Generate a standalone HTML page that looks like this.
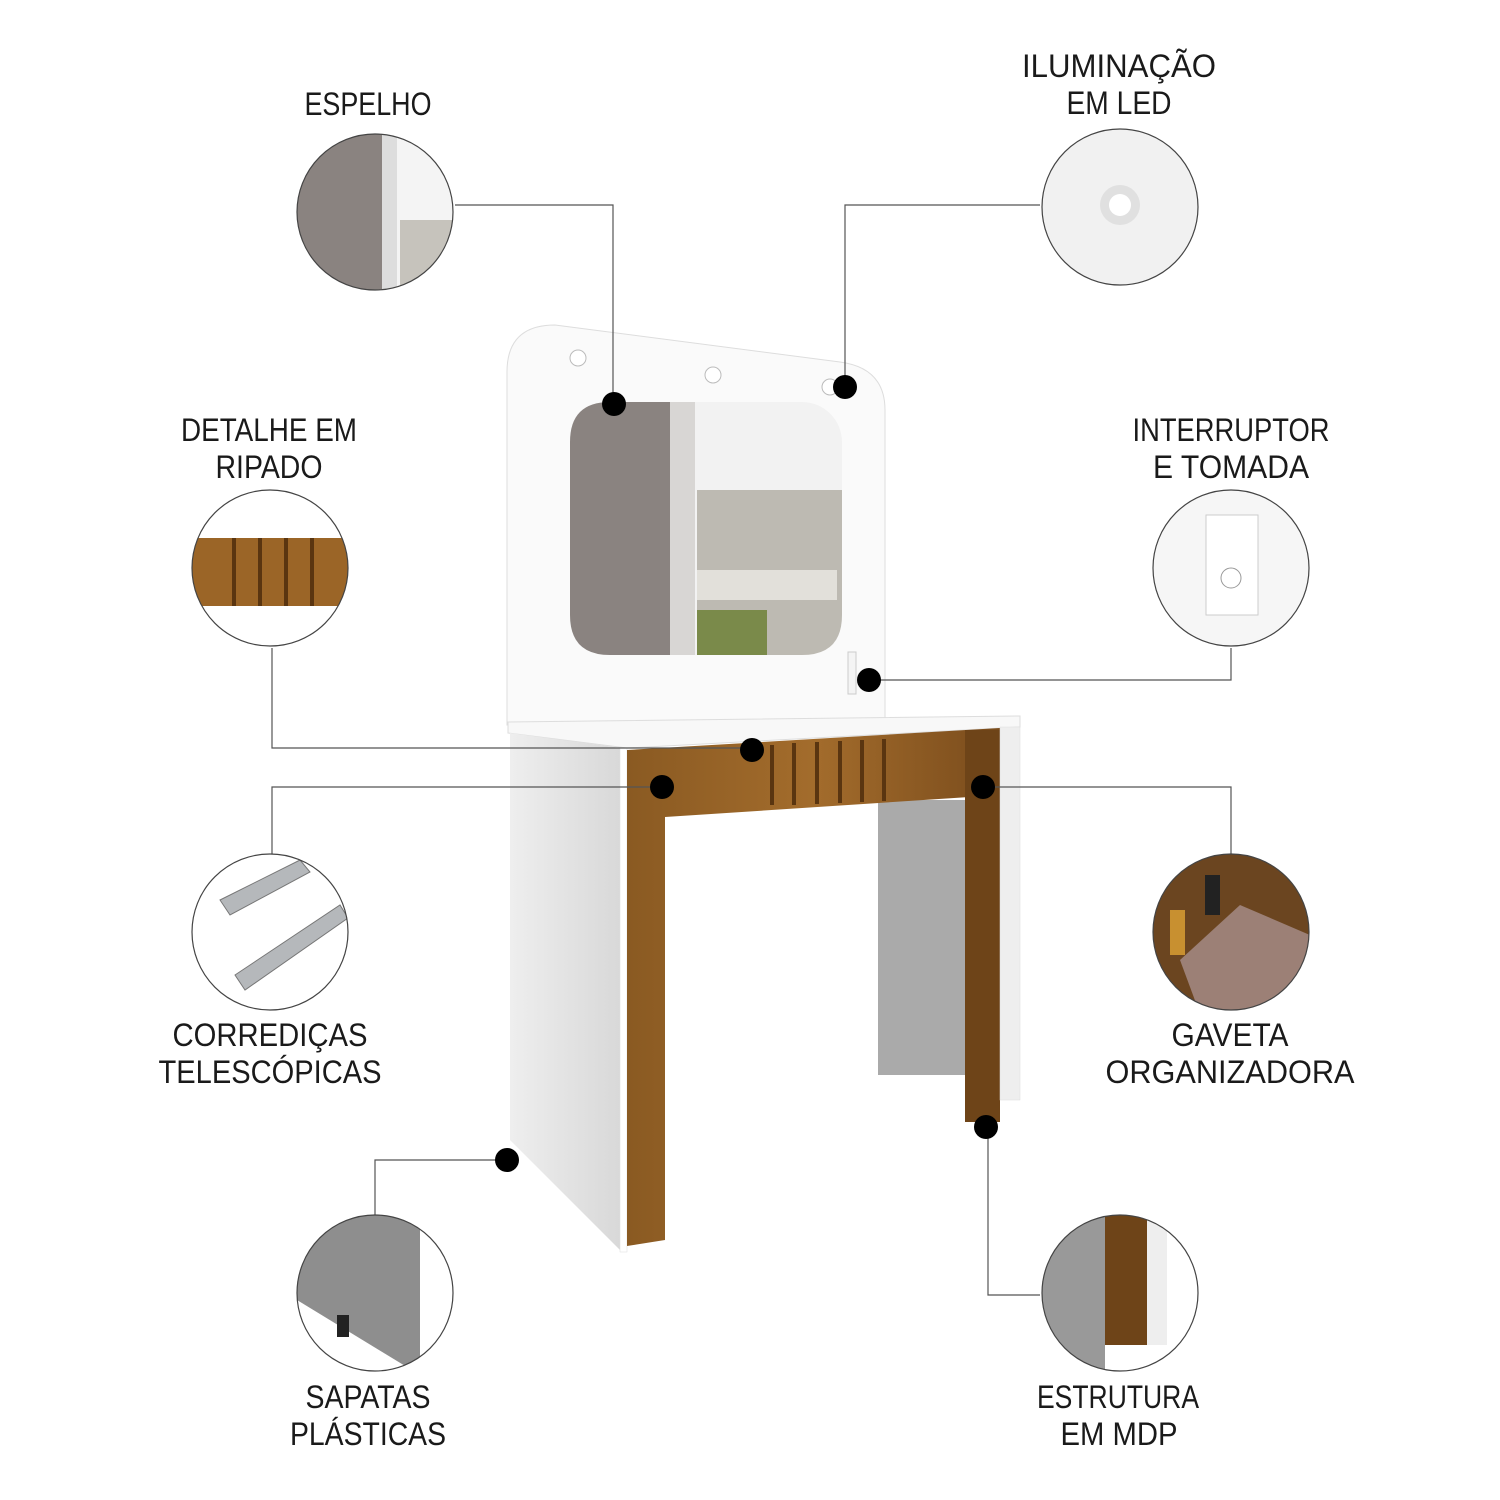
<!DOCTYPE html>
<html><head><meta charset="utf-8"><style>
html,body{margin:0;padding:0;background:#fff}
svg{display:block}
text{font-family:"Liberation Sans",sans-serif;font-size:32px;fill:#1a1a1a;text-anchor:middle}
</style></head><body>
<svg width="1500" height="1500" viewBox="0 0 1500 1500" xmlns="http://www.w3.org/2000/svg">
<defs>
<linearGradient id="wood" x1="0" x2="1" y1="0" y2="0"><stop offset="0" stop-color="#8a5a22"/><stop offset="0.5" stop-color="#a36c2c"/><stop offset="1" stop-color="#7a4c1c"/></linearGradient>
<linearGradient id="side" x1="0" x2="1"><stop offset="0" stop-color="#eeeeee"/><stop offset="1" stop-color="#d8d8d8"/></linearGradient>
<clipPath id="c1"><circle cx="375" cy="212" r="78"/></clipPath>
<clipPath id="c2"><circle cx="1120" cy="207" r="78"/></clipPath>
<clipPath id="c3"><circle cx="270" cy="568" r="78"/></clipPath>
<clipPath id="c4"><circle cx="1231" cy="568" r="78"/></clipPath>
<clipPath id="c5"><circle cx="270" cy="932" r="78"/></clipPath>
<clipPath id="c6"><circle cx="1231" cy="932" r="78"/></clipPath>
<clipPath id="c7"><circle cx="375" cy="1293" r="78"/></clipPath>
<clipPath id="c8"><circle cx="1120" cy="1293" r="78"/></clipPath>
</defs>

<path d="M507 372 Q507 325 555 325 L840 362 Q885 368 885 410 L885 725 L507 725 Z" fill="#fafafa" stroke="#ddd" stroke-width="1"/>
<rect x="570" y="402" width="272" height="253" rx="40" fill="#f2f2f2"/>
<path d="M610 402 L670 402 L670 655 L610 655 Q570 655 570 615 L570 442 Q570 402 610 402Z" fill="#8a8380"/>
<rect x="670" y="402" width="25" height="253" fill="#d8d6d4"/>
<path d="M697 490 L842 490 L842 615 Q842 655 802 655 L697 655 Z" fill="#bdbab2"/>
<rect x="697" y="610" width="70" height="45" fill="#7a8a4a"/>
<rect x="697" y="570" width="140" height="30" fill="#e2e0da"/>
<circle cx="578" cy="358" r="8" fill="#fff" stroke="#bbb"/>
<circle cx="713" cy="375" r="8" fill="#fff" stroke="#bbb"/>
<circle cx="830" cy="387" r="8" fill="#fff" stroke="#bbb"/>
<rect x="848" y="652" width="8" height="42" fill="#f4f4f4" stroke="#ccc"/>

<path d="M508 722 L1020 716 L1020 727 L627 748 L508 733 Z" fill="#f8f8f8" stroke="#ddd"/>
<path d="M510 733 L622 748 L622 1252 L510 1140 Z" fill="url(#side)"/>
<rect x="620" y="748" width="7" height="504" fill="#fff" stroke="#ddd" stroke-width="0.5"/>
<rect x="878" y="800" width="87" height="275" fill="#aaa"/>
<path d="M627 750 L1000 728 L1000 795 L665 817 L665 1240 L627 1246 Z" fill="url(#wood)"/>
<rect x="965" y="730" width="35" height="392" fill="#6e4418"/>
<g fill="#5a3510"><rect x="770" y="745" width="4" height="60"/><rect x="792" y="743" width="4" height="62"/><rect x="815" y="742" width="4" height="62"/><rect x="838" y="741" width="4" height="62"/><rect x="860" y="740" width="4" height="62"/><rect x="882" y="739" width="4" height="62"/></g>
<rect x="1000" y="727" width="20" height="373" fill="#eee" stroke="#ddd" stroke-width="0.5"/>

<g stroke="#555" stroke-width="1.2" fill="none">
<polyline points="455,205 613,205 613,404"/>
<polyline points="1040,205 845,205 845,387"/>
<polyline points="272,648 272,748 752,748"/>
<polyline points="1231,648 1231,680 869,680"/>
<polyline points="272,855 272,787 662,787"/>
<polyline points="1231,855 1231,787 983,787"/>
<polyline points="375,1215 375,1160 507,1160"/>
<polyline points="1040,1295 988,1295 988,1127"/>
</g>
<g fill="#000">
<circle cx="614" cy="404" r="12"/><circle cx="845" cy="387" r="12"/><circle cx="752" cy="750" r="12"/><circle cx="869" cy="680" r="12"/>
<circle cx="662" cy="787" r="12"/><circle cx="983" cy="787" r="12"/><circle cx="507" cy="1160" r="12"/><circle cx="986" cy="1127" r="12"/>
</g>

<g clip-path="url(#c1)"><rect x="297" y="134" width="160" height="160" fill="#f4f4f4"/><rect x="297" y="134" width="85" height="160" fill="#8a8380"/><rect x="382" y="134" width="15" height="160" fill="#ddd"/><rect x="400" y="220" width="60" height="74" fill="#c6c3bc"/></g>
<g clip-path="url(#c2)"><rect x="1040" y="129" width="160" height="160" fill="#f1f1f1"/><circle cx="1120" cy="205" r="20" fill="#e0e0e0"/><circle cx="1120" cy="205" r="11" fill="#fff"/></g>
<g clip-path="url(#c3)"><rect x="190" y="490" width="160" height="160" fill="#fff"/><rect x="190" y="538" width="160" height="68" fill="#9b6527"/><g fill="#5a3510"><rect x="232" y="538" width="4" height="68"/><rect x="258" y="538" width="4" height="68"/><rect x="284" y="538" width="4" height="68"/><rect x="310" y="538" width="4" height="68"/></g></g>
<g clip-path="url(#c4)"><rect x="1150" y="490" width="160" height="160" fill="#f6f6f6"/><rect x="1206" y="515" width="52" height="100" fill="#fff" stroke="#ccc"/><circle cx="1231" cy="578" r="10" fill="none" stroke="#999"/></g>
<g clip-path="url(#c5)"><rect x="190" y="854" width="160" height="160" fill="#fff"/><path d="M220 900 L300 860 L310 872 L230 915Z M235 975 L340 905 L348 918 L245 990Z" fill="#b5b8bb" stroke="#777"/></g>
<g clip-path="url(#c6)"><rect x="1150" y="854" width="160" height="160" fill="#6b4520"/><path d="M1180 960 L1240 905 L1310 935 L1310 1014 L1200 1014Z" fill="#9c8076"/><rect x="1170" y="910" width="15" height="45" fill="#c89030"/><rect x="1205" y="875" width="15" height="40" fill="#222"/></g>
<g clip-path="url(#c7)"><rect x="297" y="1215" width="160" height="160" fill="#fff"/><path d="M297 1215 L420 1215 L420 1375 L297 1300Z" fill="#8e8e8e"/><rect x="337" y="1315" width="12" height="22" fill="#222"/></g>
<g clip-path="url(#c8)"><rect x="1040" y="1215" width="160" height="160" fill="#fff"/><rect x="1040" y="1215" width="65" height="160" fill="#999"/><rect x="1105" y="1215" width="42" height="130" fill="#6e4418"/><rect x="1147" y="1215" width="20" height="130" fill="#eee"/></g>

<g fill="none" stroke="#444" stroke-width="1.2">
<circle cx="375" cy="212" r="78"/><circle cx="1120" cy="207" r="78"/><circle cx="270" cy="568" r="78"/><circle cx="1231" cy="568" r="78"/>
<circle cx="270" cy="932" r="78"/><circle cx="1231" cy="932" r="78"/><circle cx="375" cy="1293" r="78"/><circle cx="1120" cy="1293" r="78"/>
</g>

<text x="368" y="115" textLength="127" lengthAdjust="spacingAndGlyphs">ESPELHO</text>
<text x="1119" y="77" textLength="194" lengthAdjust="spacingAndGlyphs">ILUMINAÇÃO</text><text x="1119" y="114" textLength="105" lengthAdjust="spacingAndGlyphs">EM LED</text>
<text x="269" y="441" textLength="176" lengthAdjust="spacingAndGlyphs">DETALHE EM</text><text x="269" y="478" textLength="107" lengthAdjust="spacingAndGlyphs">RIPADO</text>
<text x="1231" y="441" textLength="197" lengthAdjust="spacingAndGlyphs">INTERRUPTOR</text><text x="1231" y="478" textLength="156" lengthAdjust="spacingAndGlyphs">E TOMADA</text>
<text x="270" y="1046" textLength="195" lengthAdjust="spacingAndGlyphs">CORREDIÇAS</text><text x="270" y="1083" textLength="223" lengthAdjust="spacingAndGlyphs">TELESCÓPICAS</text>
<text x="1230" y="1046" textLength="117" lengthAdjust="spacingAndGlyphs">GAVETA</text><text x="1230" y="1083" textLength="249" lengthAdjust="spacingAndGlyphs">ORGANIZADORA</text>
<text x="368" y="1408" textLength="125" lengthAdjust="spacingAndGlyphs">SAPATAS</text><text x="368" y="1445" textLength="156" lengthAdjust="spacingAndGlyphs">PLÁSTICAS</text>
<text x="1118" y="1408" textLength="162" lengthAdjust="spacingAndGlyphs">ESTRUTURA</text><text x="1119" y="1445" textLength="117" lengthAdjust="spacingAndGlyphs">EM MDP</text>
</svg>
</body></html>
